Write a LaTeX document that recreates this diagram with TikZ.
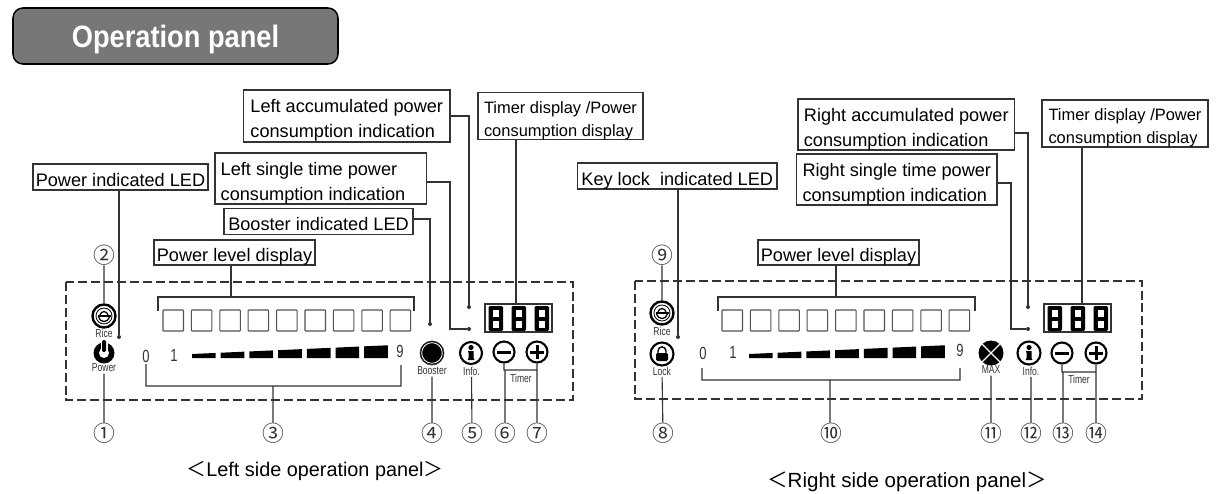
\documentclass[tikz,border=0pt]{standalone}
\usepackage{graphicx}
\usepackage{fontspec}
\setmainfont{Liberation Sans}
\newfontfamily\cjk{Noto Sans CJK JP}
\usetikzlibrary{positioning}
\definecolor{linecol}{HTML}{333333}
\definecolor{headgray}{HTML}{777777}
\def\pu{0.025cm}
\newcommand{\squeeze}[1]{\scalebox{.74}[1]{#1}}
\newcommand{\boxtext}[1]{\raisebox{-3pt}[\height][\depth]{\begin{tabular}{@{}l@{}}#1\end{tabular}}}
\tikzset{
  lead/.style={draw=linecol, line width=.8pt},
  tagbox/.style 2 args={draw=linecol, line width=.8pt, text=black,
    minimum width=#1*\pu, minimum height=#2*\pu, inner ysep=0pt, inner xsep=0pt,
    font=\fontsize{12.9}{17.8}\selectfont},
  timerbox/.style 2 args={tagbox={#1}{#2}, font=\fontsize{11.7}{16.4}\selectfont},
  num/.style={inner sep=0pt, font=\cjk\fontsize{15.5}{15.5}\selectfont, text=linecol},
  tiny/.style={inner sep=1pt, font=\fontsize{8.2}{9}\selectfont, text=linecol},
  digit/.style={inner sep=0pt, font=\fontsize{12.5}{13}\selectfont, text=linecol},
  led/.style={circle, fill=linecol, inner sep=0pt, minimum size=4*\pu},
  btn/.style={circle, draw=black, line width=1.5pt, inner sep=0pt, minimum size=21*\pu},
  riceicon/.pic={
    \draw[black, line width=.6pt] (0,0) circle[radius=8];
    \draw[black, line width=1.1pt] (-6.5,0) -- (6.5,0);
    \draw[black, line width=.9pt] (-4,-1) .. controls (-3,-5.5) and (3,-5.5) .. (4,-1);
    \draw[black, line width=.9pt] (-5.5,1) .. controls (-4,7) and (4,7) .. (5.5,1);
  },
  infoicon/.pic={
    \fill[black] (0,-5.5) circle[radius=2.6];
    \fill[black] (-3,-2) -- (2.5,-2) -- (2.5,5) -- (3.5,7) -- (-3.5,7) -- (-2.5,5) -- (-2.5,0) -- cycle;
  },
  minusicon/.pic={\fill[black] (-7,-1.5) rectangle (7,1.5);},
  plusicon/.pic={\fill[black] (-7,-1.5) rectangle (7,1.5); \fill[black] (-1.5,-7) rectangle (1.5,7);},
}
\begin{document}
\begin{tikzpicture}[x=0.025cm, y=-0.025cm]
  \useasboundingbox (0,0) rectangle (1232,494);

  % heading
  \node[draw=black, line width=1.1pt, fill=headgray, rounded corners=10*\pu, minimum width=325*\pu,
    minimum height=56*\pu, text=white, text depth=0pt, font=\bfseries\fontsize{22}{22}\selectfont] (head) at (175.5,36) {\scalebox{.88}[1]{Operation panel}};

  % dashed outlines
  \draw[linecol, line width=1.1pt, dash pattern=on 6.4pt off 2.8pt] (66,282) rectangle (573,400);
  \draw[linecol, line width=1.1pt, dash pattern=on 6.4pt off 2.8pt] (635,281) rectangle (1142,399);

  % level squares and wedges of both panels
  \foreach \ox in {163,722}
    \foreach \i in {0,...,8}
      \draw[linecol!85, line width=.75pt, rounded corners=.5pt] ({\ox+28.4*\i},310) rectangle ({\ox+28.4*\i+20.5},331);
  \foreach \ox in {192,749}
    \foreach \i in {0,...,6}
      \fill[black] ({\ox+28.7*\i},358) -- ({\ox+28.7*\i+23.7},358)
        -- ({\ox+28.7*\i+23.7},{354-0.0445*(28.7*\i+23.7)}) -- ({\ox+28.7*\i},{354-0.0445*28.7*\i}) -- cycle;

  % three digit displays
  \foreach \ox in {485,1044} {
    \draw[linecol, line width=.8pt] (\ox,304) rectangle ({\ox+67},332);
    \foreach \d in {3.5,26.5,49.5} {
      \fill[black, rounded corners=1pt] ({\ox+\d},306) rectangle ({\ox+\d+14.5},331);
      \fill[white] ({\ox+\d+4},309.5) rectangle ({\ox+\d+10.5},316.5);
      \fill[white] ({\ox+\d+4},321) rectangle ({\ox+\d+10.5},327.5);
    }
  }

  % left panel
  \node[tagbox={175}{26}] (lled) at (120.5,177) {\boxtext{Power indicated LED}};
  \node[tagbox={206.5}{52}] (lacc) at (346.75,116) {\boxtext{Left accumulated power\\consumption indication}};
  \node[tagbox={211.5}{51}] (lsingle) at (320.75,178.5) {\boxtext{Left single time power\\consumption indication\hspace*{11pt}}};
  \node[tagbox={189}{25.5}] (lboost) at (318.5,221.5) {\boxtext{Booster indicated LED}};
  \node[tagbox={161}{25}] (lpow) at (234.5,252.5) {\boxtext{Power level display}};
  \node[timerbox={165}{46.5}] (ltimer) at (560.5,116) {\boxtext{Timer display /Power\\consumption display}};

  \node[btn, line width=1.7pt, minimum size=23*\pu] (lrice) at (104,316) {};
  \pic at (lrice) {riceicon};
  \node[tiny] (lricet) at (104,333) {\squeeze{Rice}};
  \node[circle, fill=black, inner sep=0pt, minimum size=21*\pu] (lpower) at (104,353) {};
  \fill[white] (lpower) circle[radius=5];
  \fill[white] (100.5,340) rectangle (107.5,350);
  \fill[black, rounded corners=1pt] (102,340) rectangle (106,352);
  \node[tiny] (lpowert) at (104,368) {\squeeze{Power}};
  \node[circle, draw=linecol, line width=.5pt, fill=black, inner sep=0pt, minimum size=24*\pu] (lbooster) at (432,353) {};
  \draw[white, line width=.6pt] (lbooster) circle[radius=10.3];
  \node[tiny] (lboostert) at (432,371) {\squeeze{Booster}};
  \node[btn, minimum size=22*\pu] (linfo) at (471,353) {};
  \pic at (linfo) {infoicon};
  \node[tiny] (linfot) at (471.5,371) {\squeeze{Info.}};
  \node[btn] (lminus) at (504,352) {};
  \pic at (lminus) {minusicon};
  \node[btn] (lplus) at (537,352) {};
  \pic at (lplus) {plusicon};
  \node[tiny] (ltimert) at (521,378) {\squeeze{Timer}};

  \node[digit] (lzero) at (146,356) {\squeeze{0}};
  \node[digit] (lone) at (174,355) {\squeeze{1}};
  \node[digit] (lnine) at (400,351) {\squeeze{9}};

  \node[led] (lledd) at (119,337) {};
  \node[led] (lboostd) at (430,324) {};
  \node[led] (laccd) at (469,307) {};
  \node[led] (lsingled) at (469,329) {};

  \node[num] (n1) at (104,433) {①};
  \node[num] (n2) at (104,255) {②};
  \node[num] (n3) at (273,433) {③};
  \node[num] (n4) at (432,433) {④};
  \node[num] (n5) at (472,433) {⑤};
  \node[num] (n6) at (505,433) {⑥};
  \node[num] (n7) at (537,433) {⑦};

  \coordinate (ltopa) at (158,311);
  \coordinate (ltopb) at (414,311);
  \coordinate (ltopm) at (231,297);
  \coordinate (lbota) at (146,364);
  \coordinate (lbotb) at (401,365);
  \coordinate (lbotm) at (273,386);
  \coordinate (ltmrm) at (521,370);

  % from the boxes to the panel
  \path[lead]
    (lled.south -| lledd) -- (lledd)
    (lacc.east) -| (laccd)
    ([yshift=-3.5*\pu]lsingle.east) -| (450,329) -- (lsingled)
    ([yshift=2.5*\pu]lboost.east) -| (lboostd)
    (ltimer.south -| 516,304) -- (516,304)
    (lpow.south -| ltopm) -- (ltopm)
    (ltopa) |- (ltopm) -| (ltopb);

  % from the numbers to the panel
  \path[lead]
    (n1) -- (lpowert)
    (n2) -- (lrice)
    (lbota) |- (lbotm) -| (lbotb)
    (lbotm) -- (n3)
    (n4) -- (lboostert)
    (n5) -- (linfot)
    (lminus.south) |- (ltmrm) -| (lplus.south)
    (ltmrm -| n6) -- (n6)
    (ltmrm -| n7) -- (n7);

  % right panel
  \node[tagbox={199.5}{26}] (rled) at (677.25,176) {\boxtext{Key lock\ \ indicated LED}};
  \node[tagbox={216.5}{51}] (racc) at (906.25,124.5) {\boxtext{Right accumulated power\\consumption indication}};
  \node[tagbox={200.4}{51}] (rsingle) at (896.8,179.5) {\boxtext{Right single time power\\consumption indication}};
  \node[tagbox={161}{25}] (rpow) at (838.5,252.5) {\boxtext{Power level display}};
  \node[timerbox={166}{47}] (rtimer) at (1125,123.5) {\boxtext{Timer display /Power\\consumption display}};

  \node[btn, line width=1.7pt, minimum size=23*\pu] (rrice) at (662,313) {};
  \pic at (rrice) {riceicon};
  \node[tiny] (rricet) at (662,331.5) {\squeeze{Rice}};
  \node[btn, minimum size=23*\pu] (rlock) at (662,354) {};
  \fill[black, rounded corners=1pt] (656,353) rectangle (668,361);
  \draw[black, line width=1pt] (658,354) -- (658,351) .. controls (658,345.5) and (666,345.5) .. (666,351) -- (666,354);
  \node[tiny] (rlockt) at (662,371) {\squeeze{Lock}};
  \node[circle, fill=black, inner sep=0pt, minimum size=25*\pu] (rmax) at (991,353) {};
  \draw[white, line width=.8pt] (rmax.north west) -- (rmax.south east);
  \draw[white, line width=.8pt] (rmax.north east) -- (rmax.south west);
  \node[tiny] (rmaxt) at (991,370) {\squeeze{MAX}};
  \node[btn, minimum size=23*\pu] (rinfo) at (1029,353) {};
  \pic at (rinfo) {infoicon};
  \node[tiny] (rinfot) at (1031,371) {\squeeze{Info.}};
  \node[btn] (rminus) at (1062,353) {};
  \pic at (rminus) {minusicon};
  \node[btn] (rplus) at (1096,353) {};
  \pic at (rplus) {plusicon};
  \node[tiny] (rtimert) at (1079,379) {\squeeze{Timer}};

  \node[digit] (rzero) at (703,353) {\squeeze{0}};
  \node[digit] (rone) at (733,352) {\squeeze{1}};
  \node[digit] (rnine) at (960,350) {\squeeze{9}};

  \node[led] (rledd) at (678,337) {};
  \node[led] (raccd) at (1028,307) {};
  \node[led] (rsingled) at (1028,329) {};

  \node[num] (n8) at (663,433) {⑧};
  \node[num] (n9) at (662,255) {⑨};
  \node[num] (n10) at (831,433) {⑩};
  \node[num] (n11) at (991,433) {⑪};
  \node[num] (n12) at (1031,433) {⑫};
  \node[num] (n13) at (1063,433) {⑬};
  \node[num] (n14) at (1096,433) {⑭};

  \coordinate (rtopa) at (718,311);
  \coordinate (rtopb) at (975,311);
  \coordinate (rtopm) at (836,297);
  \coordinate (rbota) at (702,368);
  \coordinate (rbotb) at (960,368);
  \coordinate (rbotm) at (830,380);
  \coordinate (rtmrm) at (1079,372);

  % from the boxes to the panel
  \path[lead]
    (rled.south -| rledd) -- (rledd)
    ([yshift=-8.5*\pu]racc.east) -| (raccd)
    ([yshift=-3.5*\pu]rsingle.east) -| (1011,329) -- (rsingled)
    (rtimer.south -| 1082,304) -- (1082,304)
    (rpow.south -| rtopm) -- (rtopm)
    (rtopa) |- (rtopm) -| (rtopb);

  % from the numbers to the panel
  \path[lead]
    (n8) -- (rlockt)
    (n9) -- (rrice)
    (rbota) |- (rbotm) -| (rbotb)
    (rbotm) -- (rbotm |- n10.north)
    (n11) -- (rmaxt)
    (n12) -- (rinfot)
    (rminus.south) |- (rtmrm) -| (rplus.south)
    (rtmrm -| n13) -- (n13)
    (rtmrm -| n14) -- (n14);

  % captions
  \node[inner sep=0pt, font=\fontsize{14.1}{14}\selectfont] (lcap) at (315,471) {{\cjk ＜}Left side operation panel{\cjk ＞}};
  \node[inner sep=0pt, font=\fontsize{14.6}{15}\selectfont] (rcap) at (907,482) {{\cjk ＜}Right side operation panel{\cjk ＞}};
\end{tikzpicture}
\end{document}
